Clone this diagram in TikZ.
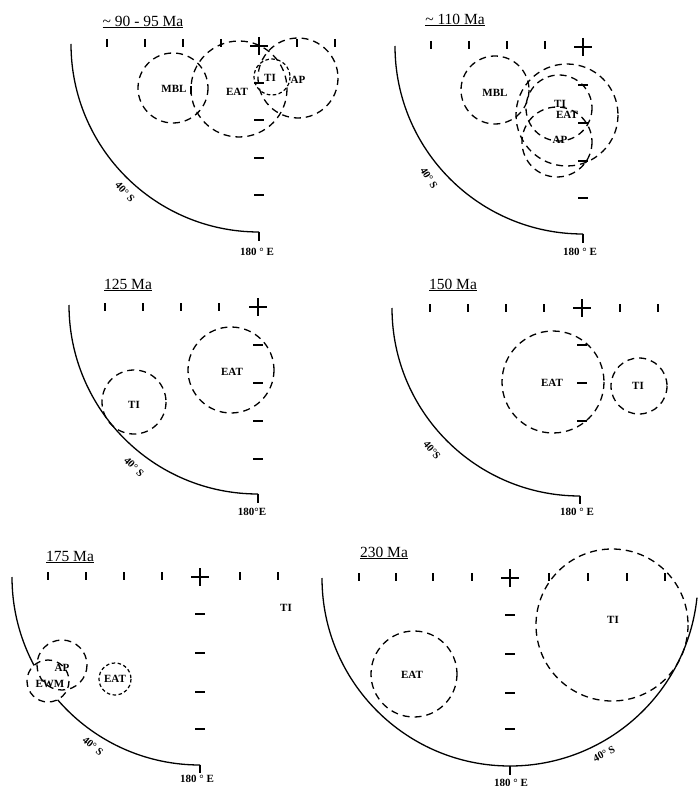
\documentclass[tikz,border=0pt]{standalone}
\usepackage{fontspec}
\setmainfont{Liberation Serif}
\begin{document}
\begin{tikzpicture}[x=1pt,y=-1pt,
  arcl/.style={line width=1.3pt},
  tk/.style={line width=1.5pt},
  dc/.style={line width=1.3pt, dash pattern=on 7pt off 5pt},
  dcs/.style={line width=1.2pt, dash pattern=on 3.5pt off 2.5pt},
  lb/.style={font=\fontsize{11}{11}\selectfont\bfseries, inner sep=0pt},
  deg/.style={font=\fontsize{10.5}{10.5}\selectfont\bfseries, inner sep=0pt},
  tt/.style={font=\fontsize{15.5}{15.5}\selectfont, inner sep=0pt}]
\useasboundingbox (0,0) rectangle (699,786);
\newcommand\mytv[2]{\draw[tk] (#1,#2-4) -- (#1,#2+4);}
\newcommand\myth[2]{\draw[tk] (#1-5,#2) -- (#1+5,#2);}
\newcommand\mypl[2]{\draw[tk] (#1-9,#2) -- (#1+9,#2) (#1,#2-9) -- (#1,#2+9);}
%% ---------- panel 1 : ~90-95 Ma
\node[tt] (t1) at (143,22) {\underline{\textasciitilde{} 90 - 95 Ma}};
\mypl{259}{46}
\foreach \x in {107,145,183,221,297,335} {\mytv{\x}{43}}
\foreach \y in {83,120,158,195} {\myth{259}{\y}}
\mytv{191}{90}
\draw[arcl] (71,44) arc[start angle=180, end angle=90, radius=188];
\draw[tk] (259,232) -- (259,241);
\node[deg, rotate=-48] (s1) at (125,192) {40° S};
\node[lb] (e1) at (257,252) {180 ° E};
\draw[dc] (173,88) circle[radius=35];
\draw[dc] (239,89) circle[radius=48];
\draw[dcs] (272,77) circle[radius=18];
\draw[dc] (298,78) circle[radius=40];
\node[lb] (mbl1) at (174,89) {MBL};
\node[lb] (eat1) at (237,92) {EAT};
\node[lb] (ti1) at (270,78) {TI};
\node[lb] (ap1) at (298,80) {AP};
%% ---------- panel 2 : ~110 Ma
\node[tt] (t2) at (455,20) {\underline{\textasciitilde{} 110 Ma}};
\mypl{583}{47}
\foreach \x in {431,469,507,545} {\mytv{\x}{45}}
\foreach \y in {85,123,161,198} {\myth{583}{\y}}
\draw[arcl] (395,46) arc[start angle=180, end angle=90, radius=188];
\draw[tk] (583,234) -- (583,243);
\node[deg, rotate=-58] (s2) at (429,178) {40° S};
\node[lb] (e2) at (580,252) {180 ° E};
\draw[dc] (495,90) circle[radius=34];
\draw[dc] (559,108) circle[radius=33];
\draw[dc] (567,115) circle[radius=51];
\draw[dc] (557,142) circle[radius=35];
\node[lb] (mbl2) at (495,93) {MBL};
\node[lb] (ti2) at (560,104) {TI};
\node[lb] (eat2) at (567,115) {EAT};
\node[lb] (ap2) at (560,140) {AP};
%% ---------- panel 3 : 125 Ma
\node[tt] (t3) at (128,285) {\underline{125 Ma}};
\mypl{258}{307}
\foreach \x in {105,143,181,219} {\mytv{\x}{307}}
\foreach \y in {345,383,421,459} {\myth{258}{\y}}
\draw[arcl] (69,305) arc[start angle=180, end angle=90, radius=189];
\draw[tk] (258,494) -- (258,503);
\node[deg, rotate=-45] (s3) at (134,467) {40° S};
\node[lb] (e3) at (252,512) {180°E};
\draw[dc] (134,402) circle[radius=32];
\draw[dc] (231,370) circle[radius=43];
\node[lb] (ti3) at (134,405) {TI};
\node[lb] (eat3) at (232,372) {EAT};
%% ---------- panel 4 : 150 Ma
\node[tt] (t4) at (453,285) {\underline{150 Ma}};
\mypl{582}{308}
\foreach \x in {430,468,506,544,620,658} {\mytv{\x}{308}}
\foreach \y in {345,383,421} {\myth{582}{\y}}
\draw[arcl] (392,308) arc[start angle=180, end angle=90, radius=188];
\draw[tk] (580,496) -- (580,504);
\node[deg, rotate=-50] (s4) at (432,450) {40°S};
\node[lb] (e4) at (577,512) {180 ° E};
\draw[dc] (553,382) circle[radius=51];
\draw[dc] (639,386) circle[radius=28];
\node[lb] (eat4) at (552,383) {EAT};
\node[lb] (ti4) at (638,386) {TI};
%% ---------- panel 5 : 175 Ma
\node[tt] (t5) at (70,557) {\underline{175 Ma}};
\mypl{200}{577}
\foreach \x in {48,86,124,162,240,278} {\mytv{\x}{576}}
\foreach \y in {614,653,692,729} {\myth{200}{\y}}
\draw[arcl] (12,577) arc[start angle=180, end angle=90, radius=188];
\draw[tk] (200,765) -- (200,773);
\fill[white] (62,665) circle[radius=25] (48,681) circle[radius=21];
\draw[dc] (62,665) circle[radius=25];
\draw[dc] (48,681) circle[radius=21];
\draw[dcs] (115,679) circle[radius=16];
\node[lb] (ap5) at (62,668) {AP};
\node[lb] (ewm5) at (50,684) {EWM};
\node[lb] (eat5) at (115,679) {EAT};
\node[lb] (ti5) at (286,608) {TI};
\node[deg, rotate=-40] (s5) at (93,746) {40° S};
\node[lb] (e5) at (197,779) {180 ° E};
%% ---------- panel 6 : 230 Ma
\node[tt] (t6) at (384,553) {\underline{230 Ma}};
\mypl{510}{578}
\foreach \x in {359,396,433,472,549,588,627,665} {\mytv{\x}{577}}
\foreach \y in {615,654,693,729} {\myth{510}{\y}}
\draw[arcl] (322,578) arc[start angle=180, end angle=6, radius=188];
\draw[tk] (510,766) -- (510,775);
\node[deg, rotate=27] (s6) at (604,754) {40° S};
\node[lb] (e6) at (511,783) {180 ° E};
\draw[dc] (414,674) circle[radius=43];
\draw[dc] (612,625) circle[radius=76];
\node[lb] (eat6) at (412,675) {EAT};
\node[lb] (ti6) at (613,620) {TI};
\end{tikzpicture}
\end{document}
